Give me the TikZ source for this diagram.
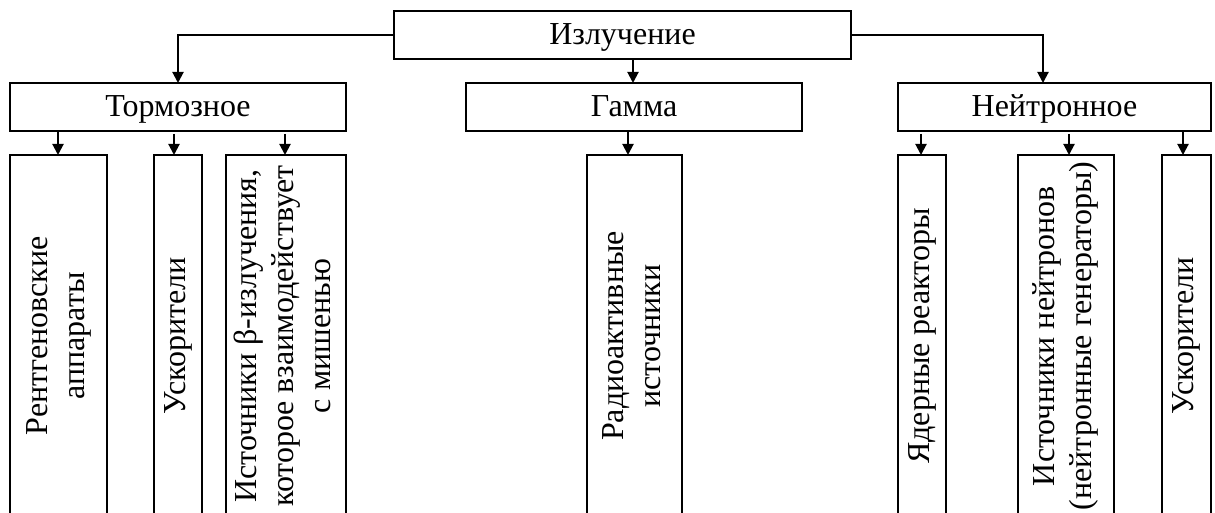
\documentclass[tikz,border=0pt]{standalone}
\usepackage{fontspec}
\setmainfont{Liberation Serif}
\usetikzlibrary{arrows.meta,calc}
\tikzset{
  box/.style={draw=black,line width=2pt,inner sep=0pt,outer sep=0pt,fill=none,
    font=\fontsize{32}{37}\selectfont},
  hbox/.style={box,text height=24pt,text depth=4pt},
  arr/.style={line width=2pt,-{Triangle[length=11pt,width=11pt]}}
}
\newcommand{\vtext}[1]{\rotatebox{90}{\begin{tabular}{@{}c@{}}#1\end{tabular}}}
\begin{document}
\begin{tikzpicture}[x=1pt,y=-1pt]
\useasboundingbox (0,0) rectangle (1215,513);
\clip (0,0) rectangle (1215,513);
\fill[white] (0,0) rectangle (1215,513);
% level 0
\node[hbox,minimum width=457pt,minimum height=48pt] (top) at (622.5,35) {Излучение};
% level 1
\node[hbox,minimum width=336pt,minimum height=48pt] (torm) at (178,107) {Тормозное};
\node[hbox,minimum width=336pt,minimum height=48pt] (gam) at (634,107) {Гамма};
\node[hbox,minimum width=313pt,minimum height=48pt] (neu) at (1054.5,107) {Нейтронное};
% level 2
\node[box,minimum width=97pt,minimum height=362pt] (r1) at (58.5,336) {\vtext{Рентгеновские\\аппараты}};
\node[box,minimum width=48pt,minimum height=362pt] (r2) at (178,336) {\vtext{Ускорители}};
\node[box,minimum width=120pt,minimum height=362pt] (r3) at (286,336) {\vtext{Источники β-излучения,\\которое взаимодействует\\с мишенью}};
\node[box,minimum width=95pt,minimum height=362pt] (g1) at (634.5,336) {\vtext{Радиоактивные\\источники}};
\node[box,minimum width=48pt,minimum height=362pt] (n1) at (922,336) {\vtext{Ядерные реакторы}};
\node[box,minimum width=96pt,minimum height=362pt] (n2) at (1066,336) {\vtext{Источники нейтронов\\(нейтронные генераторы)}};
\node[box,minimum width=49pt,minimum height=362pt] (n3) at (1186.5,336) {\vtext{Ускорители}};
% connectors level 0 -> 1
\draw[arr] (top.west) -| (torm.north);
\coordinate (cn) at ([xshift=-11.5pt]neu.north);
\draw[arr] (top.east) -| (cn);
\coordinate (cg) at ([xshift=-1pt]gam.north);
\draw[arr] (cg |- top.south) -- (cg);
% connectors level 1 -> 2
\coordinate (c1) at ([xshift=-0.5pt]r1.north);
\draw[arr] (c1 |- torm.south) -- (c1);
\coordinate (c2) at ([xshift=-4pt]r2.north);
\draw[arr] ([yshift=-3pt]c2 |- torm.south) -- (c2);
\coordinate (c3) at ([xshift=-1pt]r3.north);
\draw[arr] ([yshift=-3pt]c3 |- torm.south) -- (c3);
\coordinate (c4) at ([xshift=-6.5pt]g1.north);
\draw[arr] (c4 |- gam.south) -- (c4);
\coordinate (c5) at ([xshift=-1pt]n1.north);
\draw[arr] ([yshift=-3pt]c5 |- neu.south) -- (c5);
\coordinate (c6) at ([xshift=3pt]n2.north);
\draw[arr] ([yshift=-3pt]c6 |- neu.south) -- (c6);
\coordinate (c7) at ([xshift=-3.5pt]n3.north);
\draw[arr] (c7 |- neu.south) -- (c7);
\end{tikzpicture}
\end{document}
